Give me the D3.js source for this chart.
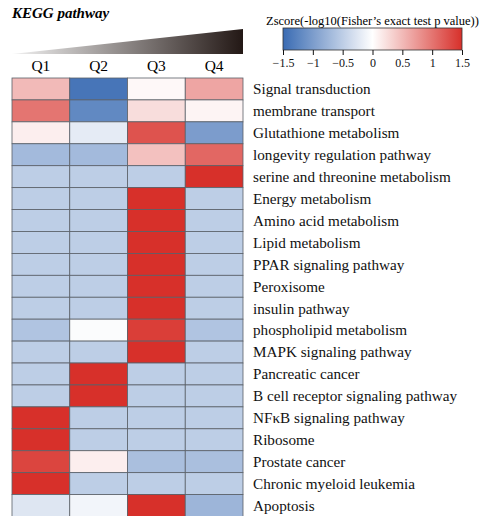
<!DOCTYPE html>
<html><head><meta charset="utf-8">
<script src="https://cdn.jsdelivr.net/npm/d3@7"></script>
<style>body{margin:0;background:#fff}svg{display:block}</style>
</head><body>
<script>
const quarters = ["Q1","Q2","Q3","Q4"];
const pathways = ["Signal transduction","membrane transport","Glutathione metabolism","longevity regulation pathway","serine and threonine metabolism","Energy metabolism","Amino acid metabolism","Lipid metabolism","PPAR signaling pathway","Peroxisome","insulin pathway","phospholipid metabolism","MAPK signaling pathway","Pancreatic cancer","B cell receptor signaling pathway","NF\u03baB signaling pathway","Ribosome","Prostate cancer","Chronic myeloid leukemia","Apoptosis"];
const q1 = [0.5, 1.0, 0.12, -0.7, -0.5, -0.5, -0.5, -0.5, -0.5, -0.5, -0.5, -0.6, -0.5, -0.5, -0.5, 1.5, 1.5, 1.35, 1.5, -0.25];
const q2 = [-1.4, -1.2, -0.2, -0.7, -0.5, -0.5, -0.5, -0.5, -0.5, -0.5, -0.5, -0.03, -0.5, 1.5, 1.5, -0.5, -0.5, 0.12, -0.5, -0.1];
const q3 = [0.05, 0.25, 1.25, 0.45, -0.5, 1.5, 1.5, 1.5, 1.5, 1.5, 1.5, 1.4, 1.5, -0.5, -0.5, -0.5, -0.5, -0.65, -0.5, 1.5];
const q4 = [0.65, 0.08, -1.0, 1.1, 1.5, -0.5, -0.5, -0.5, -0.5, -0.5, -0.5, -0.6, -0.5, -0.5, -0.5, -0.5, -0.5, -0.65, -0.5, -0.75];
const legendTicks = [-1.5,-1,-0.5,0,0.5,1,1.5];
const legendTitle = "Zscore(-log10(Fisher\u2019s exact test p value))";

const series = [q1,q2,q3,q4];
const cells = [];
pathways.forEach((p,i)=>quarters.forEach((q,j)=>cells.push({p,q,v:series[j][i]})));

const W=487,H=516;
const svg = d3.select("body").append("svg").attr("width",W).attr("height",H);
const serif = "'Liberation Serif','Times New Roman',serif";

const color = d3.scaleLinear().domain([-1.5,0,1.5]).range(["#3a6bb3","#ffffff","#d7302a"]).clamp(true);

const x = d3.scaleBand().domain(quarters).range([12,243]);
const y = d3.scaleBand().domain(pathways).range([78,516.5]);

// title
svg.append("text").attr("x",12).attr("y",18).attr("font-family",serif)
  .attr("font-size",15).attr("font-weight","bold").attr("font-style","italic").text("KEGG pathway");

// triangle
const defs = svg.append("defs");
const tg = defs.append("linearGradient").attr("id","tri").attr("x1","0%").attr("x2","100%");
tg.append("stop").attr("offset","0%").attr("stop-color","#f2f2f2");
tg.append("stop").attr("offset","100%").attr("stop-color","#231815");
svg.append("path").attr("d",`M${x.range()[0]},54 L${x.range()[1]},29 L${x.range()[1]},54 Z`).attr("fill","url(#tri)");

// column labels
svg.append("g").selectAll("text").data(quarters).join("text")
  .attr("x",d=>x(d)+x.bandwidth()/2).attr("y",70.5).attr("text-anchor","middle")
  .attr("font-family",serif).attr("font-size",15.5).text(d=>d);

// cells
svg.append("g").selectAll("rect").data(cells).join("rect")
  .attr("x",d=>x(d.q)).attr("y",d=>y(d.p)).attr("width",x.bandwidth()).attr("height",y.bandwidth())
  .attr("fill",d=>color(d.v)).attr("stroke","#5a6068").attr("stroke-width",0.8);

// row labels
svg.append("g").selectAll("text").data(pathways).join("text")
  .attr("x",253).attr("y",d=>y(d)+y.bandwidth()/2).attr("dy","0.35em")
  .attr("font-family",serif).attr("font-size",15.2).attr("fill","#111").text(d=>d);

// legend
const lx = d3.scaleLinear().domain([-1.5,1.5]).range([283,462]);
const lg = defs.append("linearGradient").attr("id","leg").attr("x1","0%").attr("x2","100%");
d3.range(0,1.0001,0.1).forEach(t=>lg.append("stop").attr("offset",(t*100)+"%").attr("stop-color",color(-1.5+3*t)));
svg.append("text").attr("x",(lx.range()[0]+lx.range()[1])/2).attr("y",25).attr("text-anchor","middle")
  .attr("font-family",serif).attr("font-size",12.5).text(legendTitle);
svg.append("rect").attr("x",lx.range()[0]).attr("y",28).attr("width",lx.range()[1]-lx.range()[0]).attr("height",22)
  .attr("fill","url(#leg)").attr("stroke","#333").attr("stroke-width",0.8);
const ax = svg.append("g").attr("transform","translate(0,50)")
  .call(d3.axisBottom(lx).tickValues(legendTicks).tickSize(5).tickFormat(d3.format("")));
ax.select(".domain").remove();
ax.selectAll("text").attr("font-family",serif).attr("font-size",12).attr("fill","#111").attr("y",16.5).attr("dy",null);
ax.selectAll("line").attr("stroke","#111");
</script>
</body></html>
